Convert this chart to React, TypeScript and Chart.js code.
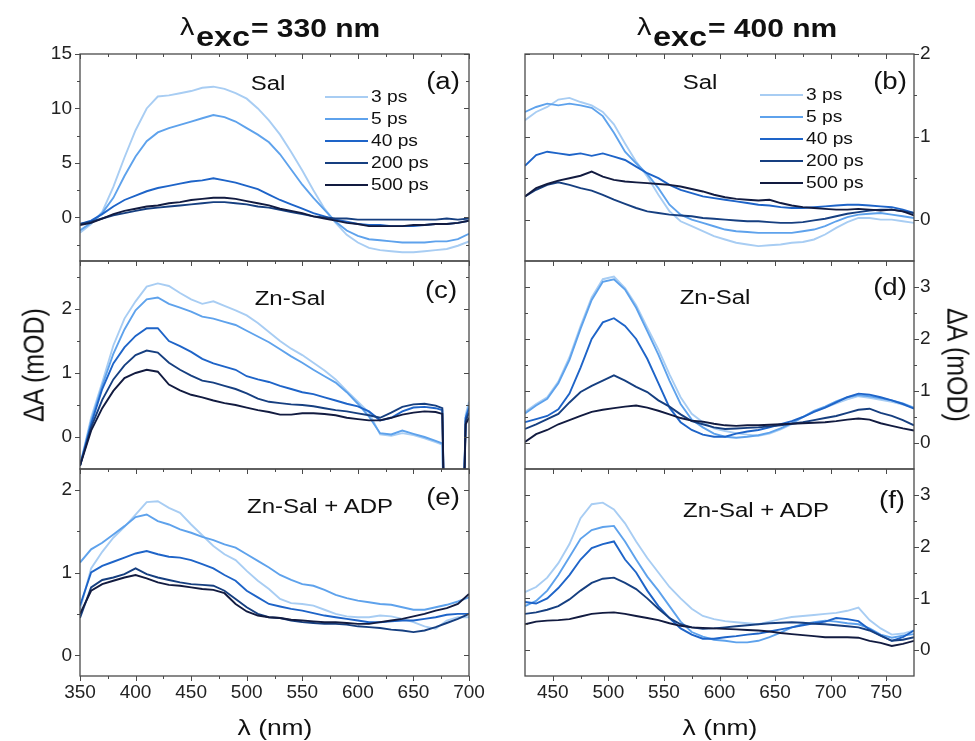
import React, { useEffect, useRef } from 'react';
import { Chart, registerables } from 'chart.js';

Chart.register(...registerables);

// ---------- DATA ----------
const seriesNames = ['3 ps', '5 ps', '40 ps', '200 ps', '500 ps'];
const seriesColors = ['#a8cdf3', '#5ea2ec', '#1e64c8', '#163f80', '#121b40'];

const wlLeft = [350, 360, 370, 380, 390, 400, 410, 420, 430, 440, 450, 460, 470, 480, 490, 500, 510, 520, 530, 540, 550, 560, 570, 580, 590, 600, 610, 620, 630, 640, 650, 660, 670, 680, 690, 700];
const wlRight = [425, 435, 445, 455, 465, 475, 485, 495, 505, 515, 525, 535, 545, 555, 565, 575, 585, 595, 605, 615, 625, 635, 645, 655, 665, 675, 685, 695, 705, 715, 725, 735, 745, 755, 765, 775];
const wlZn330 = [350, 360, 370, 380, 390, 400, 410, 420, 430, 440, 450, 460, 470, 480, 490, 500, 510, 520, 530, 540, 550, 560, 570, 580, 590, 600, 610, 620, 630, 640, 650, 660, 670, 676, 678.5, 694, 697, 700];

// (a) Sal, 330 nm
const sal330_3 = [-1.4, -0.6, 0.5, 2.8, 5.5, 8.0, 10.0, 11.1, 11.2, 11.4, 11.6, 11.9, 12.0, 11.8, 11.4, 10.9, 10.0, 8.9, 7.6, 6.0, 4.3, 2.5, 0.8, -0.5, -1.6, -2.3, -2.8, -3.0, -3.1, -3.2, -3.2, -3.1, -3.0, -2.9, -2.6, -2.2];
const sal330_5 = [-1.2, -0.5, 0.4, 1.8, 3.8, 5.6, 7.0, 7.8, 8.2, 8.5, 8.8, 9.1, 9.4, 9.2, 8.8, 8.2, 7.6, 6.9, 5.8, 4.4, 3.0, 1.8, 0.7, -0.4, -1.2, -1.7, -2.0, -2.1, -2.2, -2.3, -2.3, -2.3, -2.2, -2.2, -2.0, -1.5];
const sal330_40 = [-0.6, -0.3, 0.3, 1.0, 1.6, 2.0, 2.4, 2.7, 2.9, 3.1, 3.3, 3.4, 3.6, 3.4, 3.2, 2.9, 2.6, 2.1, 1.6, 1.2, 0.8, 0.4, 0.1, -0.2, -0.4, -0.6, -0.7, -0.7, -0.8, -0.8, -0.8, -0.7, -0.6, -0.6, -0.5, -0.3];
const sal330_200 = [-0.6, -0.4, -0.1, 0.2, 0.4, 0.6, 0.8, 0.9, 1.0, 1.1, 1.2, 1.3, 1.4, 1.4, 1.3, 1.2, 1.0, 0.9, 0.7, 0.5, 0.3, 0.1, 0.0, -0.1, -0.1, -0.2, -0.2, -0.2, -0.2, -0.2, -0.2, -0.2, -0.2, -0.1, -0.2, -0.1];
const sal330_500 = [-0.7, -0.5, -0.1, 0.3, 0.6, 0.8, 1.0, 1.1, 1.3, 1.4, 1.6, 1.7, 1.8, 1.8, 1.7, 1.5, 1.3, 1.1, 0.8, 0.6, 0.4, 0.1, -0.1, -0.3, -0.5, -0.6, -0.8, -0.8, -0.8, -0.8, -0.7, -0.7, -0.6, -0.6, -0.5, -0.3];

// (b) Sal, 400 nm
const sal400_3 = [1.2, 1.3, 1.36, 1.45, 1.47, 1.42, 1.38, 1.3, 1.15, 0.92, 0.7, 0.52, 0.3, 0.1, -0.02, -0.08, -0.14, -0.2, -0.24, -0.28, -0.3, -0.32, -0.31, -0.3, -0.28, -0.27, -0.24, -0.18, -0.1, -0.03, 0.02, 0.02, 0.0, 0.0, -0.02, -0.04];
const sal400_5 = [1.3, 1.36, 1.4, 1.38, 1.4, 1.38, 1.35, 1.25, 1.05, 0.82, 0.68, 0.55, 0.38, 0.18, 0.06, 0.0, -0.04, -0.08, -0.12, -0.14, -0.15, -0.16, -0.16, -0.16, -0.16, -0.14, -0.12, -0.08, -0.02, 0.03, 0.06, 0.07, 0.08, 0.06, 0.04, 0.02];
const sal400_40 = [0.65, 0.78, 0.82, 0.8, 0.78, 0.8, 0.77, 0.8, 0.76, 0.72, 0.64, 0.56, 0.5, 0.42, 0.36, 0.32, 0.28, 0.26, 0.24, 0.22, 0.2, 0.18, 0.17, 0.15, 0.14, 0.14, 0.15, 0.16, 0.17, 0.18, 0.18, 0.17, 0.16, 0.15, 0.12, 0.08];
const sal400_200 = [0.28, 0.36, 0.42, 0.45, 0.42, 0.38, 0.35, 0.3, 0.24, 0.19, 0.14, 0.1, 0.08, 0.06, 0.05, 0.04, 0.02, 0.01, 0.0, -0.01, -0.02, -0.02, -0.03, -0.04, -0.04, -0.03, -0.01, 0.01, 0.04, 0.07, 0.09, 0.11, 0.12, 0.12, 0.1, 0.08];
const sal400_500 = [0.28, 0.38, 0.43, 0.47, 0.5, 0.53, 0.58, 0.52, 0.48, 0.46, 0.45, 0.44, 0.43, 0.42, 0.4, 0.37, 0.34, 0.3, 0.27, 0.25, 0.24, 0.23, 0.24, 0.2, 0.17, 0.15, 0.14, 0.13, 0.12, 0.12, 0.13, 0.12, 0.11, 0.12, 0.1, 0.05];

// (c) Zn-Sal, 330 nm
const zn330_3 = [-0.45, 0.3, 0.85, 1.43, 1.85, 2.12, 2.35, 2.4, 2.36, 2.25, 2.15, 2.08, 2.12, 2.05, 1.98, 1.9, 1.78, 1.64, 1.5, 1.38, 1.28, 1.16, 1.04, 0.9, 0.72, 0.55, 0.38, 0.04, 0.02, 0.06, 0.03, -0.02, -0.08, -0.12, -2, -2, 0.35, 0.55];
const zn330_5 = [-0.45, 0.25, 0.8, 1.3, 1.68, 1.98, 2.15, 2.18, 2.08, 2.02, 1.96, 1.88, 1.85, 1.8, 1.75, 1.66, 1.57, 1.48, 1.37, 1.26, 1.16, 1.05, 0.95, 0.85, 0.7, 0.52, 0.32, 0.06, 0.04, 0.1, 0.05, 0.0, -0.06, -0.1, -2, -2, 0.3, 0.5];
const zn330_40 = [-0.45, 0.2, 0.75, 1.15, 1.4, 1.58, 1.7, 1.7, 1.5, 1.42, 1.33, 1.22, 1.15, 1.1, 1.05, 0.95, 0.9, 0.86, 0.8, 0.75, 0.7, 0.67, 0.62, 0.57, 0.52, 0.48, 0.4, 0.26, 0.3, 0.4, 0.46, 0.47, 0.45, 0.42, -2, -2, 0.3, 0.45];
const zn330_200 = [-0.45, 0.15, 0.58, 0.9, 1.12, 1.28, 1.35, 1.32, 1.16, 1.05, 0.96, 0.88, 0.85, 0.8, 0.75, 0.68, 0.6, 0.55, 0.53, 0.51, 0.5, 0.48, 0.45, 0.42, 0.4, 0.37, 0.34, 0.3, 0.38, 0.47, 0.51, 0.52, 0.49, 0.45, -2, -2, 0.25, 0.38];
const zn330_500 = [-0.45, 0.1, 0.45, 0.72, 0.92, 1.0, 1.05, 1.02, 0.82, 0.73, 0.66, 0.62, 0.57, 0.53, 0.5, 0.46, 0.42, 0.39, 0.35, 0.35, 0.37, 0.37, 0.36, 0.34, 0.3, 0.28, 0.26, 0.26, 0.3, 0.35, 0.38, 0.4, 0.39, 0.36, -2, -2, 0.2, 0.3];

// (d) Zn-Sal, 400 nm
const zn400_3 = [0.6, 0.75, 0.88, 1.18, 1.65, 2.25, 2.8, 3.15, 3.2, 2.98, 2.65, 2.22, 1.8, 1.32, 0.88, 0.56, 0.4, 0.28, 0.23, 0.19, 0.16, 0.14, 0.18, 0.26, 0.36, 0.5, 0.6, 0.68, 0.76, 0.84, 0.9, 0.87, 0.83, 0.79, 0.74, 0.68];
const zn400_5 = [0.57, 0.72, 0.85, 1.15, 1.6, 2.2, 2.75, 3.1, 3.15, 2.95, 2.6, 2.15, 1.7, 1.2, 0.75, 0.45, 0.3, 0.18, 0.12, 0.1, 0.12, 0.15, 0.2, 0.28, 0.38, 0.5, 0.62, 0.7, 0.8, 0.88, 0.92, 0.9, 0.86, 0.82, 0.76, 0.68];
const zn400_40 = [0.4, 0.46, 0.52, 0.65, 0.95, 1.45, 2.0, 2.32, 2.4, 2.25, 2.0, 1.62, 1.15, 0.68, 0.4, 0.25, 0.16, 0.12, 0.12, 0.18, 0.22, 0.25, 0.3, 0.36, 0.42, 0.5, 0.6, 0.68, 0.78, 0.88, 0.95, 0.93, 0.88, 0.82, 0.75, 0.66];
const zn400_200 = [0.27, 0.36, 0.46, 0.56, 0.78, 0.98, 1.1, 1.2, 1.3, 1.2, 1.08, 0.98, 0.82, 0.7, 0.55, 0.42, 0.36, 0.3, 0.27, 0.28, 0.29, 0.3, 0.32, 0.34, 0.37, 0.4, 0.44, 0.48, 0.52, 0.58, 0.64, 0.66, 0.58, 0.52, 0.44, 0.34];
const zn400_500 = [0.02, 0.17, 0.25, 0.36, 0.44, 0.52, 0.6, 0.64, 0.67, 0.7, 0.72, 0.68, 0.62, 0.55, 0.48, 0.43, 0.41, 0.37, 0.34, 0.33, 0.34, 0.34, 0.35, 0.36, 0.37, 0.38, 0.39, 0.4, 0.42, 0.45, 0.47, 0.45, 0.38, 0.33, 0.28, 0.24];

// (e) Zn-Sal + ADP, 330 nm
const adp330_3 = [0.55, 1.05, 1.25, 1.42, 1.55, 1.7, 1.85, 1.86, 1.78, 1.72, 1.58, 1.45, 1.32, 1.22, 1.15, 1.02, 0.9, 0.8, 0.68, 0.63, 0.62, 0.6, 0.55, 0.5, 0.47, 0.46, 0.46, 0.48, 0.47, 0.44, 0.4, 0.35, 0.32, 0.42, 0.46, 0.46];
const adp330_5 = [1.12, 1.28, 1.36, 1.46, 1.56, 1.67, 1.7, 1.62, 1.58, 1.52, 1.48, 1.43, 1.39, 1.34, 1.3, 1.22, 1.14, 1.06, 0.97, 0.91, 0.86, 0.84, 0.79, 0.73, 0.69, 0.66, 0.64, 0.62, 0.61, 0.58, 0.55, 0.55, 0.58, 0.61, 0.65, 0.7];
const adp330_40 = [0.6, 1.0, 1.08, 1.13, 1.18, 1.23, 1.26, 1.22, 1.19, 1.18, 1.15, 1.1, 1.05, 0.97, 0.9, 0.78, 0.7, 0.62, 0.59, 0.56, 0.54, 0.51, 0.48, 0.46, 0.44, 0.42, 0.4, 0.4, 0.41, 0.42, 0.42, 0.44, 0.46, 0.49, 0.5, 0.5];
const adp330_200 = [0.45, 0.82, 0.91, 0.94, 0.98, 1.05, 0.98, 0.94, 0.91, 0.88, 0.86, 0.85, 0.84, 0.78, 0.68, 0.58, 0.5, 0.46, 0.45, 0.42, 0.4, 0.39, 0.38, 0.38, 0.37, 0.35, 0.34, 0.33, 0.31, 0.3, 0.28, 0.3, 0.34, 0.39, 0.44, 0.5];
const adp330_500 = [0.5, 0.78, 0.86, 0.9, 0.94, 0.97, 0.93, 0.88, 0.85, 0.84, 0.82, 0.8, 0.79, 0.75, 0.62, 0.53, 0.48, 0.46, 0.45, 0.43, 0.42, 0.41, 0.4, 0.4, 0.39, 0.38, 0.38, 0.4, 0.42, 0.44, 0.47, 0.5, 0.54, 0.57, 0.62, 0.74];

// (f) Zn-Sal + ADP, 400 nm
const adp400_3 = [1.12, 1.22, 1.4, 1.68, 2.05, 2.55, 2.82, 2.85, 2.72, 2.45, 2.1, 1.78, 1.5, 1.22, 1.0, 0.8, 0.66, 0.6, 0.56, 0.54, 0.52, 0.5, 0.55, 0.6, 0.64, 0.66, 0.68, 0.7, 0.72, 0.76, 0.82, 0.58, 0.42, 0.3, 0.32, 0.38];
const adp400_5 = [0.85, 0.95, 1.15, 1.45, 1.8, 2.15, 2.32, 2.38, 2.4, 2.1, 1.75, 1.42, 1.15, 0.85, 0.55, 0.35, 0.26, 0.2, 0.18, 0.15, 0.15, 0.18, 0.25, 0.34, 0.44, 0.5, 0.54, 0.57, 0.55, 0.52, 0.5, 0.42, 0.3, 0.24, 0.28, 0.31];
const adp400_40 = [0.93, 0.9, 1.0, 1.2, 1.45, 1.75, 1.97, 2.05, 2.1, 1.75, 1.5, 1.15, 0.85, 0.62, 0.42, 0.3, 0.22, 0.22, 0.25, 0.27, 0.3, 0.32, 0.36, 0.4, 0.44, 0.48, 0.52, 0.55, 0.62, 0.6, 0.56, 0.4, 0.28, 0.18, 0.25, 0.38];
const adp400_200 = [0.7, 0.73, 0.78, 0.85, 0.98, 1.15, 1.3, 1.38, 1.4, 1.3, 1.18, 1.0, 0.8, 0.62, 0.5, 0.44, 0.41, 0.42, 0.44, 0.46, 0.48, 0.5, 0.52, 0.53, 0.54, 0.53, 0.51, 0.5, 0.48, 0.46, 0.44, 0.38, 0.28, 0.18, 0.2, 0.25];
const adp400_500 = [0.5, 0.55, 0.57, 0.58, 0.6, 0.65, 0.7, 0.72, 0.73, 0.7, 0.66, 0.62, 0.58, 0.52, 0.47, 0.44, 0.43, 0.42, 0.41, 0.4, 0.39, 0.38, 0.36, 0.33, 0.31, 0.29, 0.27, 0.25, 0.25, 0.25, 0.24, 0.18, 0.14, 0.08, 0.12, 0.18];

// Tick values
const xMajorLeft = [350, 400, 450, 500, 550, 600, 650, 700];
const xMinorLeft = [375, 425, 475, 525, 575, 625, 675];
const xMajorRight = [450, 500, 550, 600, 650, 700, 750];
const xMinorRight = [475, 525, 575, 625, 675, 725];
const yMajorA = [0, 5, 10, 15];
const yMinorA = [-2.5, 2.5, 7.5, 12.5];
const yMajor012 = [0, 1, 2];
const yMinorC = [0.5, 1.5, 2.5];
const yMinorE = [0.5, 1.5];
const yMinorB = [0.5, 1.5];
const yMajor0123 = [0, 1, 2, 3];
const yMinorDF = [0.5, 1.5, 2.5];

// ---------- LAYOUT ----------
const W = 975;
const H = 741;
const COL_L = [80, 525];
const COL_R = [469, 914];
const ROW_T = [54, 261, 469];
const ROW_B = [261, 469, 676];
const FONT = '"Liberation Sans", Arial, Helvetica, sans-serif';

const panels = [
  { col: 0, row: 0, x: wlLeft, ys: [sal330_3, sal330_5, sal330_40, sal330_200, sal330_500], xMin: 350, xMax: 700, yMin: -4, yMax: 15, xMaj: xMajorLeft, xMin2: xMinorLeft, yMaj: yMajorA, yMin2: yMinorA },
  { col: 1, row: 0, x: wlRight, ys: [sal400_3, sal400_5, sal400_40, sal400_200, sal400_500], xMin: 425, xMax: 775, yMin: -0.5, yMax: 2, xMaj: xMajorRight, xMin2: xMinorRight, yMaj: yMajor012, yMin2: yMinorB },
  { col: 0, row: 1, x: wlZn330, ys: [zn330_3, zn330_5, zn330_40, zn330_200, zn330_500], xMin: 350, xMax: 700, yMin: -0.5, yMax: 2.75, xMaj: xMajorLeft, xMin2: xMinorLeft, yMaj: yMajor012, yMin2: yMinorC },
  { col: 1, row: 1, x: wlRight, ys: [zn400_3, zn400_5, zn400_40, zn400_200, zn400_500], xMin: 425, xMax: 775, yMin: -0.5, yMax: 3.5, xMaj: xMajorRight, xMin2: xMinorRight, yMaj: yMajor0123, yMin2: yMinorDF },
  { col: 0, row: 2, x: wlLeft, ys: [adp330_3, adp330_5, adp330_40, adp330_200, adp330_500], xMin: 350, xMax: 700, yMin: -0.25, yMax: 2.25, xMaj: xMajorLeft, xMin2: xMinorLeft, yMaj: yMajor012, yMin2: yMinorE },
  { col: 1, row: 2, x: wlRight, ys: [adp400_3, adp400_5, adp400_40, adp400_200, adp400_500], xMin: 425, xMax: 775, yMin: -0.5, yMax: 3.5, xMaj: xMajorRight, xMin2: xMinorRight, yMaj: yMajor0123, yMin2: yMinorDF },
];

const framePlugin = {
  id: 'frame',
  afterDatasetsDraw(chart: any, _args: any, opts: any) {
    const { ctx, chartArea: a, scales } = chart;
    const xs = scales.x;
    const ys = scales.y;
    ctx.save();
    ctx.strokeStyle = '#4a4a4a';
    ctx.lineWidth = 1.3;
    ctx.strokeRect(a.left, a.top, a.right - a.left, a.bottom - a.top);
    ctx.lineWidth = 1;
    ctx.beginPath();
    const MAJ = 5;
    const MIN = 3;
    const vt = (v: number, len: number) => {
      const px = Math.round(xs.getPixelForValue(v)) + 0.5;
      ctx.moveTo(px, a.top);
      ctx.lineTo(px, a.top + len);
      if (opts.bottomTicks) {
        ctx.moveTo(px, a.bottom);
        ctx.lineTo(px, a.bottom + len);
      }
    };
    opts.xMaj.forEach((v: number) => vt(v, MAJ));
    opts.xMin.forEach((v: number) => vt(v, MIN));
    const outX = opts.yRight ? a.right : a.left;
    const outDir = opts.yRight ? 1 : -1;
    const inX = opts.yRight ? a.left : a.right;
    const inDir = opts.yRight ? 1 : -1;
    const ht = (v: number, len: number) => {
      const py = Math.round(ys.getPixelForValue(v)) + 0.5;
      ctx.moveTo(outX, py);
      ctx.lineTo(outX + outDir * len, py);
      ctx.moveTo(inX, py);
      ctx.lineTo(inX + inDir * len, py);
    };
    opts.yMaj.forEach((v: number) => ht(v, MAJ));
    opts.yMin.forEach((v: number) => ht(v, MIN));
    ctx.stroke();
    ctx.restore();
  },
};

function buildChart(canvas: HTMLCanvasElement, p: any) {
  const left = p.col === 0;
  const bottomRow = p.row === 2;
  const bl = COL_L[p.col];
  const br = COL_R[p.col];
  const bt = ROW_T[p.row];
  const bb = ROW_B[p.row];
  const YW = 40;
  const XH = bottomRow ? 30 : 0;
  const tickFont = { family: FONT, size: 19 };
  return new Chart(canvas, {
    type: 'line',
    data: {
      datasets: p.ys.map((ys: number[], i: number) => ({
        label: seriesNames[i],
        data: p.x.map((x: number, k: number) => ({ x, y: ys[k] })),
        borderColor: seriesColors[i],
        backgroundColor: seriesColors[i],
        borderWidth: 1.9,
        pointRadius: 0,
        fill: false,
        tension: 0,
        order: seriesNames.length - i,
      })),
    },
    options: {
      animation: false,
      responsive: false,
      maintainAspectRatio: false,
      devicePixelRatio: 1,
      events: [],
      layout: {
        padding: {
          left: left ? bl - YW : bl,
          right: left ? W - br : W - br - YW,
          top: bt,
          bottom: H - bb - XH,
        },
      },
      scales: {
        x: {
          type: 'linear',
          min: p.xMin,
          max: p.xMax,
          display: bottomRow,
          afterBuildTicks: (s: any) => { s.ticks = p.xMaj.map((v: number) => ({ value: v })); },
          afterFit: (s: any) => { s.height = XH; },
          grid: { display: false, drawTicks: false },
          border: { display: false },
          ticks: { font: tickFont, color: '#222', padding: 5, maxRotation: 0, autoSkip: false },
        },
        y: {
          type: 'linear',
          position: left ? 'left' : 'right',
          min: p.yMin,
          max: p.yMax,
          afterBuildTicks: (s: any) => { s.ticks = p.yMaj.map((v: number) => ({ value: v })); },
          afterFit: (s: any) => { s.width = YW; },
          grid: { display: false, drawTicks: false },
          border: { display: false },
          ticks: { font: tickFont, color: '#222', padding: left ? 8 : 6, autoSkip: false },
        },
      },
      plugins: {
        legend: { display: false },
        tooltip: { enabled: false },
        frame: { xMaj: p.xMaj, xMin: p.xMin2, yMaj: p.yMaj, yMin: p.yMin2, yRight: !left, bottomTicks: bottomRow },
      } as any,
    },
    plugins: [framePlugin],
  } as any);
}

// ---------- TEXT HELPERS ----------
const SX = 1.2;

function CText({ x, y, size, children, bold = false, rotate = 0 }: any) {
  return (
    <div
      style={{
        position: 'absolute', left: x, top: y, fontSize: size, lineHeight: 1,
        fontWeight: bold ? 'bold' : 'normal', whiteSpace: 'nowrap', color: '#111',
        transformOrigin: 'center center',
        transform: `translate(-50%, -50%) scaleX(${SX}) rotate(${rotate}deg)`,
      }}
    >
      {children}
    </div>
  );
}

function LText({ x, y, size, children }: any) {
  return (
    <div
      style={{
        position: 'absolute', left: x, top: y, fontSize: size, lineHeight: 1,
        whiteSpace: 'nowrap', color: '#111',
        transformOrigin: 'left center',
        transform: `translate(0, -50%) scaleX(${SX})`,
      }}
    >
      {children}
    </div>
  );
}

function BText({ x, base, size, bold = false, children }: any) {
  return (
    <div
      style={{
        position: 'absolute', left: x, top: base - 0.8465 * size, fontSize: size, lineHeight: 1,
        fontWeight: bold ? 'bold' : 'normal', whiteSpace: 'nowrap', color: '#111',
        transformOrigin: 'left center',
        transform: `scaleX(${SX})`,
      }}
    >
      {children}
    </div>
  );
}

function Title({ x, nm }: any) {
  return (
    <>
      <BText x={x} base={35} size={24}>λ</BText>
      <BText x={x + 16} base={47} size={27} bold>exc</BText>
      <BText x={x + 71} base={37} size={25} bold>{`= ${nm} nm`}</BText>
    </>
  );
}

function Legend({ x, rows }: any) {
  return (
    <>
      {seriesNames.map((n, i) => (
        <React.Fragment key={n}>
          <div style={{ position: 'absolute', left: x, top: rows[i] - 1, width: 43, height: 2, background: seriesColors[i] }} />
          <LText x={x + 46} y={rows[i]} size={16}>{n}</LText>
        </React.Fragment>
      ))}
    </>
  );
}

export default function App() {
  const refs = useRef<(HTMLCanvasElement | null)[]>([]);
  useEffect(() => {
    const charts = panels.map((p, i) => buildChart(refs.current[i] as HTMLCanvasElement, p));
    return () => charts.forEach((c) => c.destroy());
  }, []);
  return (
    <div style={{ position: 'absolute', left: 0, top: 0, width: W, height: H, background: '#fff', fontFamily: FONT, overflow: 'hidden' }}>
      {panels.map((_, i) => (
        <canvas
          key={i}
          ref={(el) => { refs.current[i] = el; }}
          width={W}
          height={H}
          style={{ position: 'absolute', left: 0, top: 0, width: W, height: H }}
        />
      ))}
      <Title x={180} nm={330} />
      <Title x={637} nm={400} />

      <CText x={268} y={83} size={20}>Sal</CText>
      <CText x={443} y={81} size={23}>(a)</CText>
      <Legend x={325} rows={[97, 119, 141, 163, 185]} />

      <CText x={700} y={82} size={20}>Sal</CText>
      <CText x={890} y={81} size={23}>(b)</CText>
      <Legend x={760} rows={[95, 117, 139, 161, 183]} />

      <CText x={290} y={298} size={20}>Zn-Sal</CText>
      <CText x={441} y={290} size={23}>(c)</CText>
      <CText x={715} y={297} size={20}>Zn-Sal</CText>
      <CText x={890} y={287} size={23}>(d)</CText>

      <CText x={320} y={506} size={20}>Zn-Sal + ADP</CText>
      <CText x={443} y={497} size={23}>(e)</CText>
      <CText x={756} y={510} size={20}>Zn-Sal + ADP</CText>
      <CText x={892} y={500} size={23}>(f)</CText>

      <CText x={275} y={728} size={22}>λ (nm)</CText>
      <CText x={720} y={728} size={22}>λ (nm)</CText>
      <CText x={33} y={365} size={25} rotate={-90}>ΔA (mOD)</CText>
      <CText x={958} y={365} size={25} rotate={90}>ΔA (mOD)</CText>
    </div>
  );
}
